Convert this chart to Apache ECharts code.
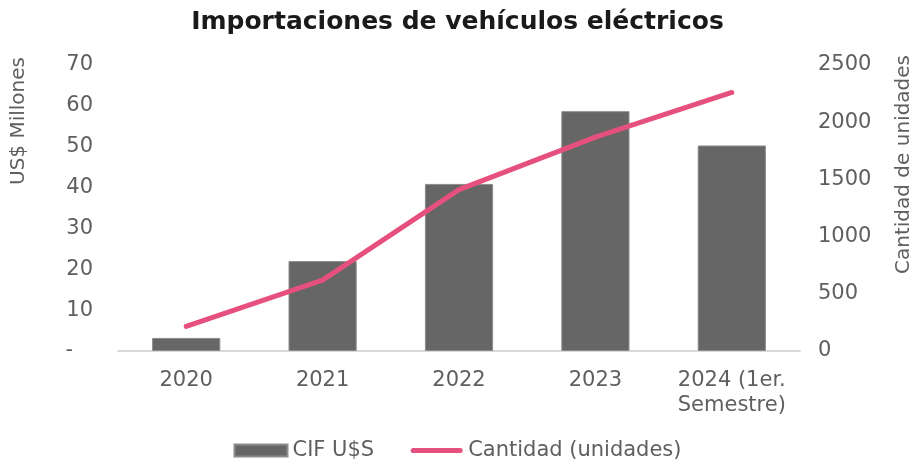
<!DOCTYPE html>
<html>
<head>
<meta charset="utf-8">
<script src="https://cdn.jsdelivr.net/npm/echarts@6/dist/echarts.min.js"></script>
<style>
html,body{margin:0;padding:0;background:#fff;}
#chart{width:915px;height:466px;}
</style>
</head>
<body>
<div id="chart"></div>
<script>
const categories = ['2020', '2021', '2022', '2023', '2024 (1er.\nSemestre)'];
const cifValues = [3.2, 22.0, 40.9, 58.7, 50.3];
const cantidadValues = [215, 620, 1410, 1870, 2260];
const leftTicks = { min: 0, max: 70, interval: 10 };
const rightTicks = { min: 0, max: 2500, interval: 500 };

const FONT = '"DejaVu Sans", "Noto Sans", sans-serif';
const TXT = '#5f5f5f';
const PINK = '#E6507E';

const chart = echarts.init(document.getElementById('chart'));
chart.setOption({
  animation: false,
  textStyle: { fontFamily: FONT },
  title: {
    text: 'Importaciones de vehículos eléctricos',
    left: 'center',
    top: 5,
    textStyle: { fontFamily: FONT, fontSize: 25, fontWeight: 'bold', color: '#1a1a1a' }
  },
  grid: { left: 118, right: 115, top: 65, bottom: 115, containLabel: false },
  legend: {
    bottom: 0,
    left: 'center',
    itemWidth: 53,
    itemHeight: 12,
    itemGap: 36,
    textStyle: { fontFamily: FONT, fontSize: 21, color: TXT },
    data: [
      { name: 'CIF U$S', icon: 'rect' },
      { name: 'Cantidad (unidades)', icon: 'path://M0,0 M53,12 M3,3.5 L50,3.5 A2.5,2.5 0 0 1 50,8.5 L3,8.5 A2.5,2.5 0 0 1 3,3.5 Z' }
    ]
  },
  graphic: [
    {
      type: 'text', left: 9, top: 57, rotation: Math.PI / 2,
      style: { text: 'US$ Millones', fontFamily: FONT, fontSize: 20, fill: TXT }
    },
    {
      type: 'text', right: 1, top: 55, rotation: Math.PI / 2,
      style: { text: 'Cantidad de unidades', fontFamily: FONT, fontSize: 20, fill: TXT }
    }
  ],
  xAxis: {
    type: 'category',
    data: categories,
    axisLine: { lineStyle: { color: '#d9d9d9', width: 2 } },
    axisTick: { show: false },
    axisLabel: { fontFamily: FONT, fontSize: 21, color: TXT, margin: 17, lineHeight: 25, interval: 0 }
  },
  yAxis: [
    {
      type: 'value', min: leftTicks.min, max: leftTicks.max, interval: leftTicks.interval,
      splitLine: { show: false },
      axisLine: { show: false }, axisTick: { show: false },
      axisLabel: {
        fontFamily: FONT, fontSize: 21, color: TXT, margin: 25,
        formatter: v => v === 0 ? '-   ' : String(v)
      }
    },
    {
      type: 'value', min: rightTicks.min, max: rightTicks.max, interval: rightTicks.interval,
      splitLine: { show: false },
      axisLine: { show: false }, axisTick: { show: false },
      axisLabel: { fontFamily: FONT, fontSize: 21, color: TXT, margin: 18, formatter: v => String(v) }
    }
  ],
  series: [
    {
      name: 'CIF U$S',
      type: 'bar',
      yAxisIndex: 0,
      barWidth: '50%',
      data: cifValues,
      itemStyle: { color: '#666666', borderColor: '#8c8c8c', borderWidth: 1 }
    },
    {
      name: 'Cantidad (unidades)',
      type: 'line',
      yAxisIndex: 1,
      data: cantidadValues,
      symbol: 'none',
      lineStyle: { color: PINK, width: 5, cap: 'round', join: 'round' },
      itemStyle: { color: PINK }
    }
  ]
});
</script>
</body>
</html>
